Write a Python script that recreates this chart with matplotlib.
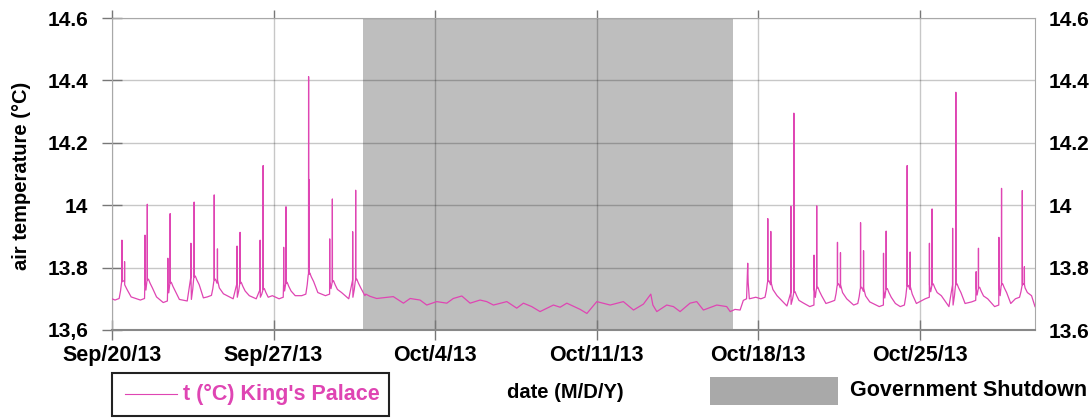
import matplotlib
matplotlib.use("Agg")
import matplotlib.pyplot as plt
from matplotlib.patches import Rectangle
from matplotlib.lines import Line2D

# x values are days since Sep/20/13 00:00
tick_days = [0, 7, 14, 21, 28, 35]
tick_labels = ["Sep/20/13", "Sep/27/13", "Oct/4/13", "Oct/11/13", "Oct/18/13", "Oct/25/13"]
y_ticks = [13.6, 13.8, 14.0, 14.2, 14.4, 14.6]
left_labels = ["13,6", "13.8", "14", "14.2", "14.4", "14.6"]
right_labels = ["13.6", "13.8", "14", "14.2", "14.4", "14.6"]
shutdown = (10.88, 26.92)

# daily heating spikes before the shutdown
pre_day = [0.43, 1.53, 2.52, 3.56, 4.43, 5.55, 6.55, 7.54, 8.52, 9.55, 10.56]
pre_peak = [13.888, 14.003, 13.973, 14.010, 14.033, 13.913, 14.127, 13.995, 14.412, 14.020, 14.048]
pre_sec_dt = [0.115, -0.10, -0.10, -0.14, 0.14, -0.13, -0.13, -0.10, 0.03, -0.115, -0.13]
pre_sec = [13.819, 13.904, 13.830, 13.878, 13.860, 13.869, 13.888, 13.865, 14.081, 13.892, 13.915]
pre_hump = [13.755, 13.76, 13.75, 13.77, 13.76, 13.75, 13.73, 13.75, 13.78, 13.755, 13.76]
pre_base = [13.696, 13.696, 13.688, 13.693, 13.706, 13.70, 13.70, 13.70, 13.71, 13.71, 13.70]

# quiet period (shutdown)
quiet_day = [11.00, 11.18, 11.47, 12.19, 12.63, 12.92, 13.35, 13.64, 14.07, 14.51, 14.79,
             15.16, 15.52, 15.95, 16.24, 16.53, 17.11, 17.54, 17.83, 18.19, 18.55, 19.13,
             19.42, 19.71, 20.29, 20.58, 21.01, 21.59, 22.16, 22.60, 23.03, 23.35, 23.44,
             23.61, 24.04, 24.33, 24.62, 25.05, 25.34, 25.63, 26.21, 26.64, 26.79, 27.00,
             27.22, 27.36, 27.50, 27.55, 27.57, 27.62, 27.90]
quiet_temp = [13.715, 13.708, 13.701, 13.707, 13.686, 13.701, 13.696, 13.680, 13.691, 13.686, 13.701,
              13.709, 13.686, 13.696, 13.691, 13.680, 13.691, 13.670, 13.686, 13.675, 13.659, 13.680,
              13.673, 13.686, 13.666, 13.653, 13.691, 13.680, 13.691, 13.664, 13.683, 13.715, 13.680,
              13.659, 13.680, 13.675, 13.659, 13.686, 13.691, 13.664, 13.680, 13.675, 13.659, 13.666,
              13.664, 13.695, 13.700, 13.814, 13.752, 13.700, 13.705]

# daily heating spikes after the shutdown
post_day = [28.42, 29.55, 30.54, 31.44, 32.44, 33.55, 34.46, 35.54, 36.57, 37.55, 38.55, 39.45]
post_peak = [13.957, 14.295, 13.998, 13.881, 13.944, 13.917, 14.127, 13.988, 14.362, 13.862, 14.054, 14.047]
post_sec_dt = [0.13, -0.13, -0.115, 0.13, 0.13, -0.115, 0.13, -0.115, -0.14, -0.10, -0.115, 0.09]
post_sec = [13.916, 13.997, 13.840, 13.848, 13.854, 13.846, 13.850, 13.878, 13.926, 13.787, 13.897, 13.803]
post_hump = [13.755, 13.72, 13.734, 13.745, 13.734, 13.73, 13.74, 13.745, 13.745, 13.734, 13.745, 13.745]
post_base = [13.70, 13.677, 13.675, 13.69, 13.68, 13.675, 13.675, 13.70, 13.675, 13.69, 13.675, 13.70]
end_temp = 13.675

LINE_COLOR = '#DF45B3'


def spike_points(t, peak, sec_dt, sec, hump, base):
    """points of one daily spike: baseline, hump, two narrow peaks, decay"""
    pts = [(t - 0.30, base), (t - 0.12, base + 0.005), (t - 0.06, (base + hump) / 2),
           (t - 0.02, hump - 0.005),
           (t + sec_dt - 0.004, hump), (t + sec_dt, sec), (t + sec_dt + 0.004, hump),
           (t - 0.004, hump), (t, peak), (t + 0.004, hump),
           (t + 0.05, hump + 0.003), (t + 0.12, hump - 0.01), (t + 0.22, hump - 0.025),
           (t + 0.40, base + 0.01)]
    return sorted(pts)


def build_series():
    pts = [(0.0, 13.70)]
    for row in zip(pre_day, pre_peak, pre_sec_dt, pre_sec, pre_hump, pre_base):
        pts += spike_points(*row)
    pts += list(zip(quiet_day, quiet_temp))
    for row in zip(post_day, post_peak, post_sec_dt, post_sec, post_hump, post_base):
        pts += spike_points(*row)
    pts.append((40.0, end_temp))
    days = [p[0] for p in pts]
    temps = [p[1] for p in pts]
    return days, temps


def main():
    plt.rcParams['font.family'] = ['Liberation Sans', 'DejaVu Sans']
    plt.rcParams['font.weight'] = 'bold'
    W, H = 1091, 418
    fs = 15.5
    fig = plt.figure(figsize=(W / 100, H / 100), dpi=100)
    ax = fig.add_axes([112 / W, 1 - 330 / H, (1035 - 112) / W, (330 - 18) / H])

    days, temps = build_series()
    ax.axvspan(shutdown[0], shutdown[1], color='#BEBEBE', lw=0, zorder=0)
    ax.plot(days, temps, color=LINE_COLOR, lw=0.9, zorder=3)

    ax.set_xlim(0, 40)
    ax.set_ylim(13.6, 14.6)
    ax.set_xticks(tick_days)
    ax.set_xticklabels(tick_labels, fontsize=fs, fontweight='bold')
    ax.set_yticks(y_ticks)
    ax.set_yticklabels(left_labels, fontsize=15, fontweight='bold')
    ax.set_axisbelow(True)
    ax.grid(True, color='black', alpha=0.22, lw=1)
    ax.tick_params(axis='x', direction='inout', length=14, width=1, color='#777777', pad=4)
    ax.tick_params(axis='y', direction='inout', length=14, width=1, color='#777777', pad=10)
    for side in ['top', 'right', 'left']:
        ax.spines[side].set_color('#A8A8A8')
    ax.spines['bottom'].set_color('#888888')
    ax.spines['bottom'].set_linewidth(1.5)

    top = ax.secondary_xaxis('top')
    top.set_xticks(tick_days)
    top.tick_params(axis='x', direction='out', length=6, width=1, color='#777777',
                    labeltop=False)
    top.spines['top'].set_visible(False)

    ax2 = ax.twinx()
    ax2.set_ylim(13.6, 14.6)
    ax2.set_yticks(y_ticks)
    ax2.set_yticklabels(right_labels, fontsize=15, fontweight='bold')
    ax2.tick_params(axis='y', length=0, pad=10)
    for s in ax2.spines.values():
        s.set_visible(False)

    fig.text(22 / W, 1 - 176 / H, "air temperature (°C)", rotation=90,
             ha='center', va='center', fontsize=14.5, fontweight='bold')

    # bottom legend row
    fig.add_artist(Rectangle((112 / W, 1 - 416 / H), (389 - 112) / W, 43 / H,
                             transform=fig.transFigure, fill=False,
                             edgecolor='#222222', lw=1.5))
    fig.add_artist(Line2D([125 / W, 177 / W], [1 - 394 / H, 1 - 394 / H],
                          transform=fig.transFigure, color=LINE_COLOR, lw=0.8))
    fig.text(183 / W, 1 - 394 / H, "t (°C) King's Palace", ha='left', va='center',
             fontsize=fs, fontweight='bold', color=LINE_COLOR)
    fig.text(565 / W, 1 - 393 / H, "date (M/D/Y)", ha='center', va='center',
             fontsize=14.5, fontweight='bold')
    fig.add_artist(Rectangle((710 / W, 1 - 405 / H), 128 / W, 28 / H,
                             transform=fig.transFigure, color='#A9A9A9', lw=0))
    fig.text(850 / W, 1 - 391 / H, "Government Shutdown", ha='left', va='center',
             fontsize=fs, fontweight='bold')

    fig.savefig('out.png', dpi=100)


if __name__ == "__main__":
    main()
